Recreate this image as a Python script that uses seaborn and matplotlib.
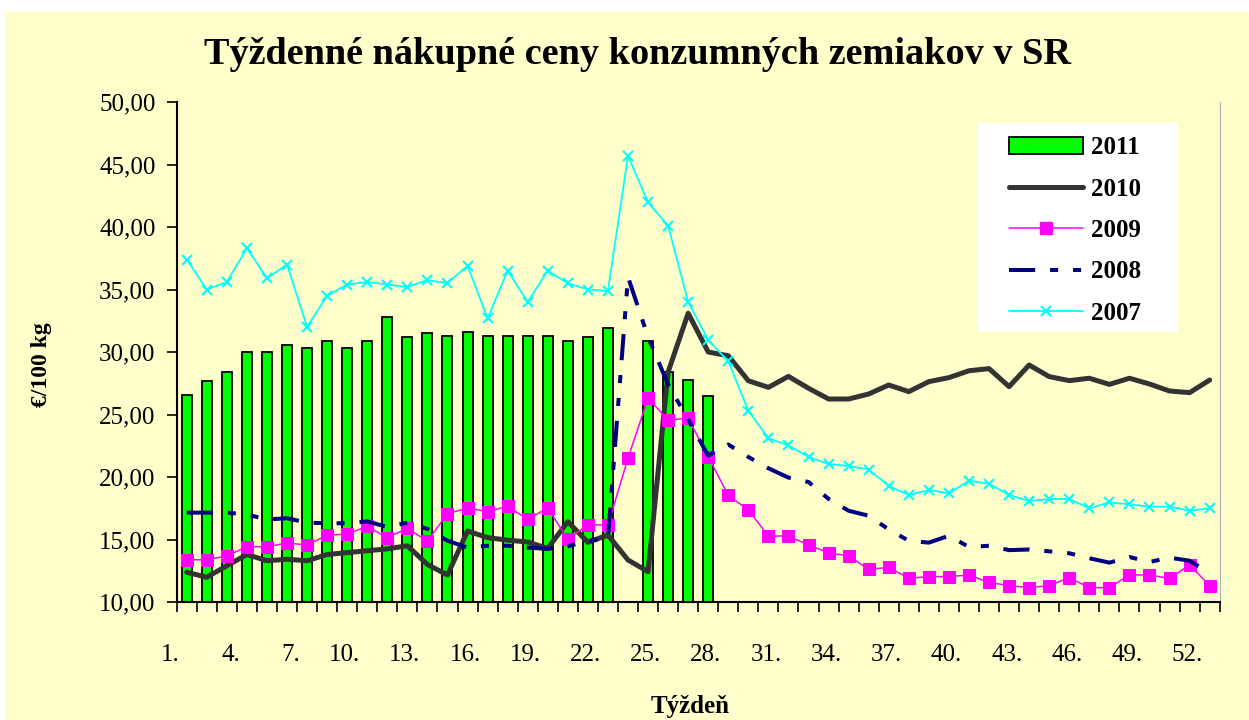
import numpy as np
import pandas as pd
import seaborn as sns
import matplotlib.pyplot as plt
from matplotlib.patches import Rectangle, Patch
from matplotlib.lines import Line2D
from matplotlib.ticker import FuncFormatter

# -----------------------------
# Data
# -----------------------------
weeks = list(range(1, 53))

price_2011 = [26.6, 27.65, 28.4, 30.0, 30.0, 30.6, 30.3, 30.9, 30.3, 30.9,
              32.8, 31.2, 31.5, 31.3, 31.6, 31.3, 31.3, 31.3, 31.3, 30.9,
              31.2, 31.9, np.nan, 30.9, 28.4, 27.8, 26.5] + [np.nan] * 25

price_2010 = [12.38, 11.98, 12.9, 13.8, 13.3, 13.42, 13.3, 13.8, 13.95, 14.1,
              14.25, 14.5, 13.0, 12.16, 15.68, 15.15, 14.95, 14.8, 14.29, 16.43,
              14.77, 15.36, 13.36, 12.43, 28.4, 33.1, 30.0, 29.7, 27.7, 27.17,
              28.05, 27.1, 26.24, 26.24, 26.64, 27.36, 26.83, 27.63, 27.95, 28.5,
              28.67, 27.23, 28.96, 28.03, 27.71, 27.9, 27.41, 27.9, 27.44, 26.88,
              26.75, 27.76]

price_2009 = [13.38, 13.38, 13.68, 14.42, 14.42, 14.72, 14.56, 15.33, 15.44, 16.05,
              15.15, 15.89, 14.88, 17.06, 17.52, 17.23, 17.65, 16.62, 17.52, 15.02,
              16.18, 16.16, 21.5, 26.3, 24.56, 24.7, 21.63, 18.53, 17.36, 15.28,
              15.28, 14.56, 13.95, 13.68, 12.61, 12.77, 11.89, 12.03, 12.03, 12.16,
              11.57, 11.31, 11.15, 11.31, 11.95, 11.15, 11.15, 12.16, 12.16, 11.89,
              12.96, 11.31]

price_2008 = [17.15, 17.15, 17.15, 17.0, 16.6, 16.7, 16.35, 16.3, 16.3, 16.45,
              16.0, 16.35, 15.85, 14.9, 14.35, 14.5, 14.5, 14.35, 14.25, 14.45,
              14.9, 15.1, 36.0, 31.2, 27.4, 24.6, 21.7, 22.6, 21.6, 20.7,
              19.95, 19.6, 18.25, 17.3, 16.9, 15.8, 14.9, 14.75, 15.3, 14.4,
              14.5, 14.15, 14.2, 14.05, 13.9, 13.5, 13.15, 13.6, 13.2, 13.55,
              13.3, 12.3]

price_2007 = [37.4, 35.0, 35.6, 38.3, 35.9, 37.0, 32.0, 34.5, 35.4, 35.6,
              35.4, 35.2, 35.75, 35.5, 36.9, 32.7, 36.5, 34.0, 36.5, 35.5,
              35.0, 34.88, 45.68, 41.97, 40.1, 34.0, 30.96, 29.25, 25.3, 23.1,
              22.53, 21.6, 21.04, 20.88, 20.6, 19.28, 18.56, 18.96, 18.69, 19.71,
              19.46, 18.56, 18.08, 18.24, 18.24, 17.49, 17.97, 17.81, 17.63, 17.63,
              17.31, 17.49]

label_weeks = list(range(1, 53, 3))

prices = pd.DataFrame({
    "week": weeks,
    "2011": price_2011,
    "2010": price_2010,
    "2009": price_2009,
    "2008": price_2008,
    "2007": price_2007,
})
pos = np.arange(len(weeks))

# -----------------------------
# Style
# -----------------------------
sns.set_style("white")
plt.rcParams["font.family"] = ["Liberation Serif", "DejaVu Serif"]
plt.rcParams["text.color"] = "black"

bg = "#ffffcc"
c2011 = "#00ff00"
c2010 = "#333333"
c2009 = "#ff00ff"
c2008 = "#000080"
c2007 = "#00ffff"
dash2008 = (6.5, 3.7, 2, 3.7, 2, 3.7)

W, H = 1249, 720
fig = plt.figure(figsize=(W / 100, H / 100), dpi=100, facecolor="white")
fig.add_artist(Rectangle((5 / W, 0), 1, 1 - 12 / H, transform=fig.transFigure,
                         facecolor=bg, edgecolor="none", zorder=-10))

ax = fig.add_axes([176.7 / W, 118 / H, 1043 / W, 500 / H])
ax.set_facecolor(bg)

# -----------------------------
# Bars + lines
# -----------------------------
sns.barplot(data=prices, x="week", y="2011", order=weeks, color=c2011,
            saturation=1, edgecolor="black", linewidth=1.3, width=0.5,
            errorbar=None, ax=ax, zorder=2)

sns.lineplot(x=pos, y=prices["2010"], color=c2010, lw=3.6, ax=ax, zorder=3)
sns.lineplot(x=pos, y=prices["2009"], color=c2009, lw=1.1, marker="s",
             markersize=8, markeredgecolor=c2009, ax=ax, zorder=4)
sns.lineplot(x=pos, y=prices["2008"], color=c2008, lw=2.9, ax=ax, zorder=5)
ax.get_lines()[-1].set_dashes(dash2008)
sns.lineplot(x=pos, y=prices["2007"], color=c2007, lw=1.3, marker="x",
             markersize=7, markeredgewidth=1.5, markeredgecolor=c2007,
             ax=ax, zorder=6)

# -----------------------------
# Axes
# -----------------------------
ax.set_xlim(-0.5, len(weeks) - 0.5)
ax.set_ylim(10, 50)
ax.set_yticks(range(10, 51, 5))
ax.yaxis.set_major_formatter(FuncFormatter(lambda v, _: f"{v:.2f}".replace(".", ",")))

ax.set_xticks(np.arange(-0.5, len(weeks), 1), minor=True)
ax.set_xticks([w - 1.5 + 0.16 for w in label_weeks])
ax.set_xticklabels([f"{w}." for w in label_weeks], ha="right")
ax.tick_params(axis="x", which="major", bottom=True, length=0, pad=30,
               labelsize=18, labelcolor="black")
ax.tick_params(axis="x", which="minor", bottom=True, length=7.2, width=1.2,
               direction="out", color="black")
ax.tick_params(axis="y", which="major", left=True, length=7.2, width=1.2,
               direction="out", pad=8, labelsize=18, color="black",
               labelcolor="black")
ax.set_xlabel("")
ax.set_ylabel("")
ax.grid(False)

for side in ["left", "bottom"]:
    ax.spines[side].set_color("black")
    ax.spines[side].set_linewidth(1.5)
ax.spines["top"].set_visible(False)
ax.spines["right"].set_color("#b0b0b0")
ax.spines["right"].set_linewidth(0.8)

# -----------------------------
# Legend
# -----------------------------
ax.add_patch(Rectangle((978 / W, 1 - 332 / H), 200 / W, 209 / H,
                       transform=fig.transFigure, facecolor="white",
                       edgecolor="none", zorder=10, clip_on=False))
handles = [
    Patch(facecolor=c2011, edgecolor="black", linewidth=1.3),
    Line2D([], [], color=c2010, lw=3.6),
    Line2D([], [], color=c2009, lw=1.1, marker="s", markersize=8),
    Line2D([], [], color=c2008, lw=2.9, dashes=dash2008),
    Line2D([], [], color=c2007, lw=1.3, marker="x", markersize=7,
           markeredgewidth=1.5),
]
leg = ax.legend(handles, ["2011", "2010", "2009", "2008", "2007"],
                loc="upper left", bbox_to_anchor=(1009 / W, 1 - 136 / H),
                bbox_transform=fig.transFigure, frameon=False, borderpad=0,
                borderaxespad=0, handlelength=2.95, handletextpad=0.35,
                labelspacing=0.74, prop={"size": 18, "weight": "bold"},
                labelcolor="black")
leg.set_zorder(11)

# -----------------------------
# Titles
# -----------------------------
fig.text(637 / W, 1 - 55 / H, "Týždenné nákupné ceny konzumných zemiakov v SR",
         ha="center", va="center", fontsize=27.5, fontweight="bold",
         color="black")
fig.text(42 / W, 1 - 365 / H, "€/100 kg", rotation=90, ha="center",
         va="center", fontsize=17, fontweight="bold", color="black")
fig.text(690 / W, 1 - 706 / H, "Týždeň", ha="center", va="center",
         fontsize=18, fontweight="bold", color="black")

fig.savefig("out.png", dpi=100, facecolor="white")
